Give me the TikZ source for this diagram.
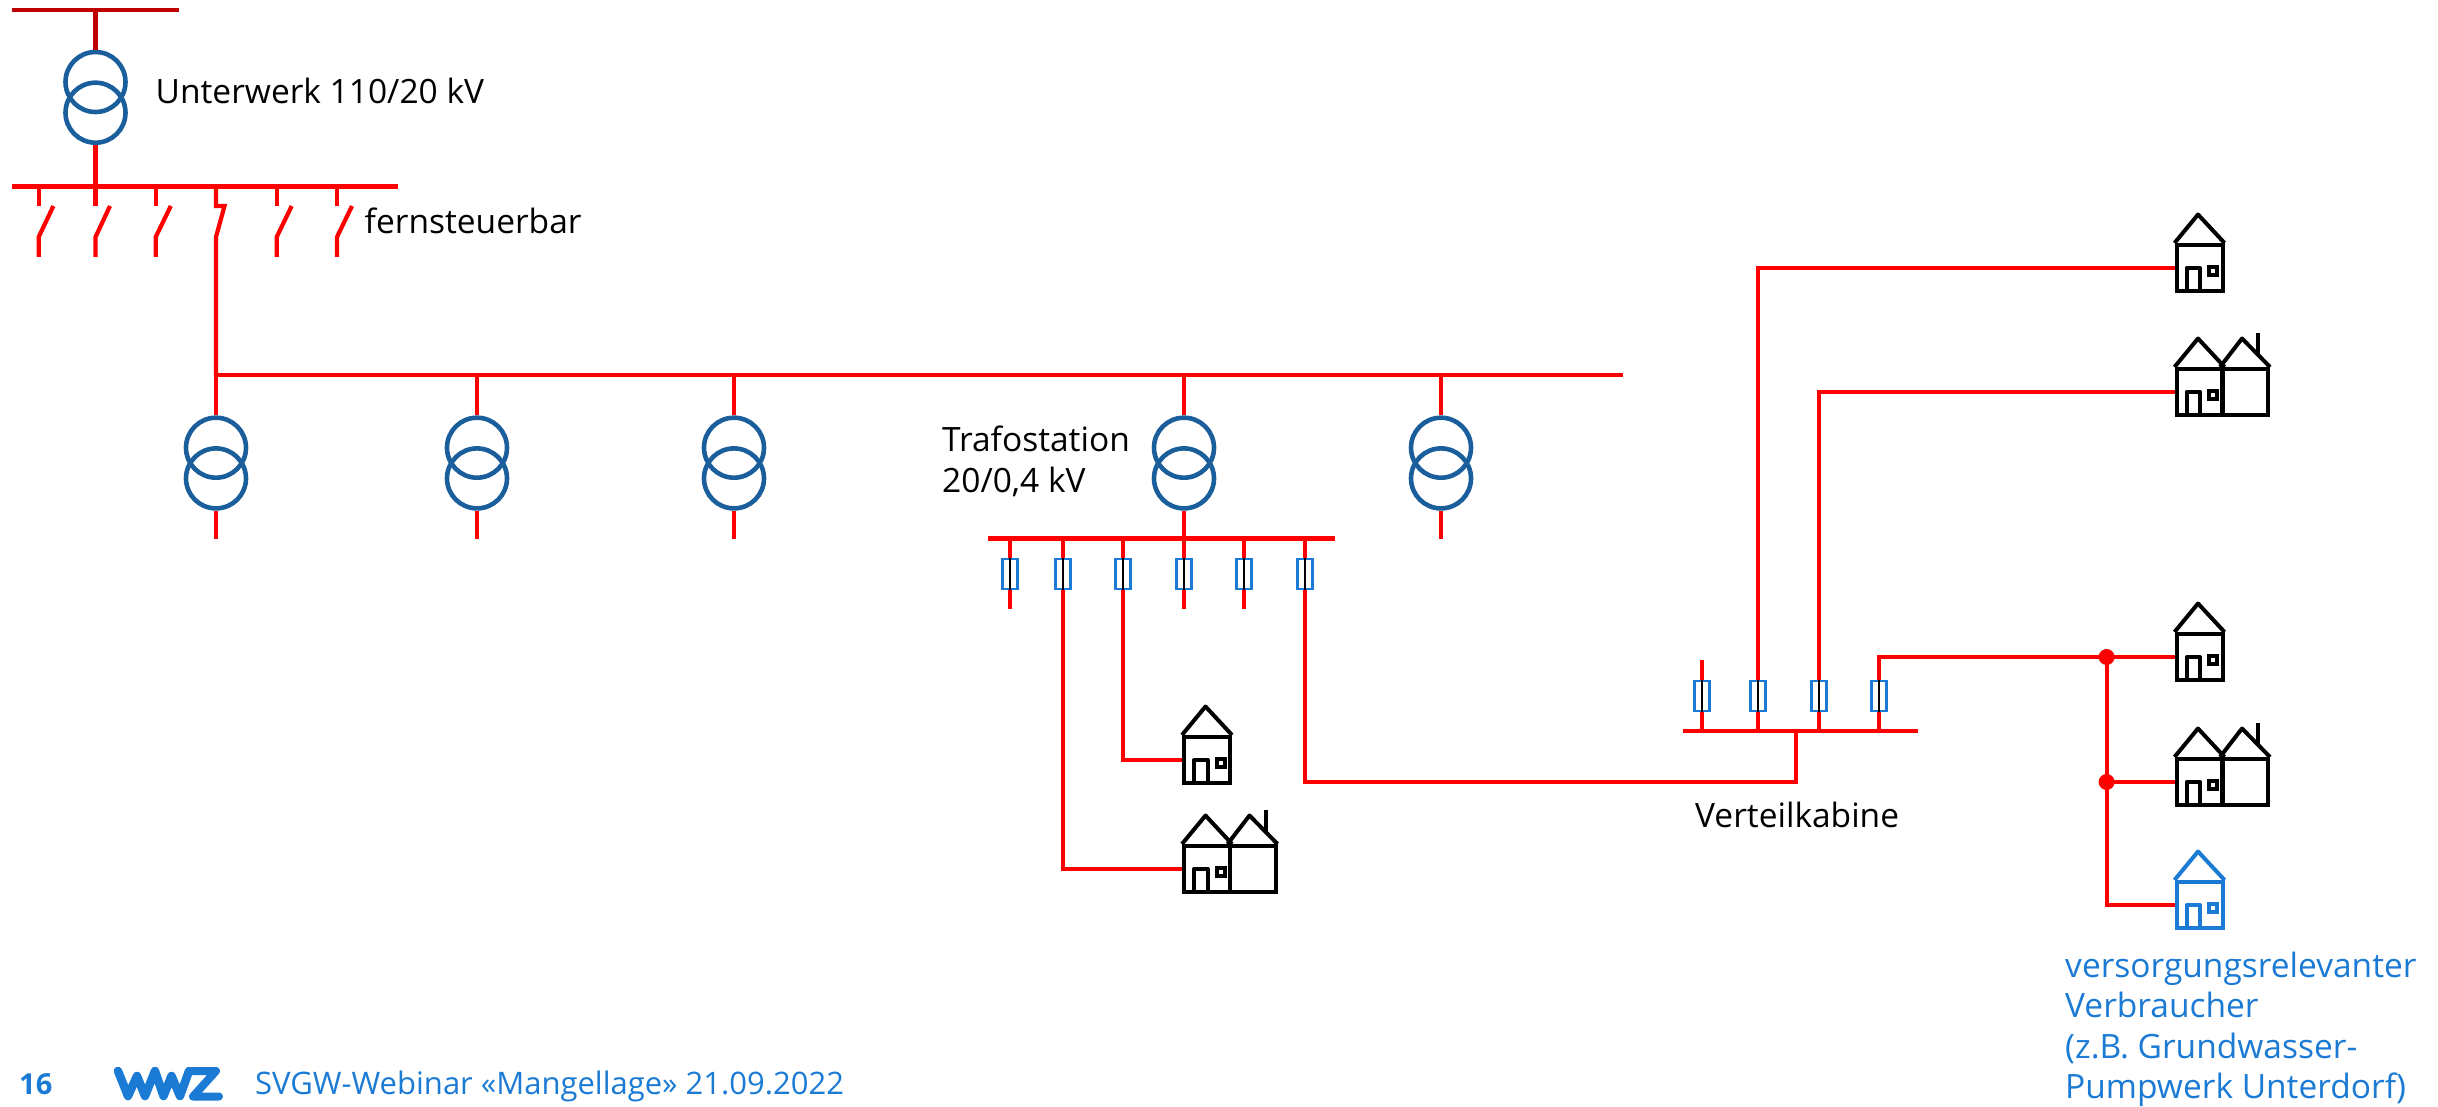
\documentclass[tikz,border=0pt]{standalone}
\usepackage{fontspec}
\setmainfont{Open Sans}
\definecolor{wirered}{HTML}{FF0000}
\definecolor{darkwire}{HTML}{C00000}
\definecolor{trafoblue}{HTML}{1B5E9C}
\definecolor{wwzblue}{HTML}{1A7AD4}
\tikzset{
  wire/.style={draw=wirered,line width=4.2pt},
  hvwire/.style={draw=darkwire,line width=4.2pt},
  busbar/.style={draw=wirered,line width=4.6pt},
  coil/.style={circle,draw=trafoblue,line width=4.6pt,minimum size=60pt,inner sep=0pt,fill=none},
  fusebox/.style={rectangle,draw=wwzblue,line width=2.8pt,minimum width=15pt,minimum height=30pt,inner sep=0pt},
  fusecore/.style={draw=black,line width=1.2pt},
  wall/.style={rectangle,line width=4pt,minimum width=46pt,minimum height=46pt,inner sep=0pt},
  hline/.style={line width=4pt,line join=round},
  label/.style={anchor=base west,inner sep=0pt,font=\fontsize{33.5}{40}\selectfont,text=black},
  bluelabel/.style={label,text=wwzblue},
  joint/.style={circle,fill=wirered,minimum size=16pt,inner sep=0pt},
}
% #1 name, #2 x, #3 y of upper coil centre
\newcommand{\trafo}[3]{%
  \node[coil] (#1u) at (#2,#3) {};
  \node[coil] (#1l) at (#2,#3+30.7) {};
}
% #1 name, #2 x, #3 centre y
\newcommand{\fuse}[3]{%
  \node[fusebox] (#1) at (#2,#3) {};
  \draw[fusecore] (#1.north) -- (#1.south);
}
% #1 name, #2 left x, #3 body top y, #4 colour
\newcommand{\house}[4]{%
  \node[wall,draw=#4] (#1) at (#2+23.5,#3+23) {};
  \draw[hline,draw=#4] (#1.north west) -- ++(23.5,-28.5) -- (#1.north east);
  \draw[hline,draw=#4] (#2+10.5,#3+46) -- (#2+10.5,#3+23) -- (#2+24,#3+23) -- (#2+24,#3+46);
  \draw[draw=#4,line width=4pt] (#2+33,#3+22) rectangle (#2+41,#3+30);
}
% #1 name, #2 left x, #3 body top y
\newcommand{\dhouse}[3]{%
  \house{#1}{#2}{#3}{black}
  \node[wall,draw=black] (#1r) at (#2+69,#3+23) {};
  \draw[hline,draw=black] (#1r.north west) -- ++(22,-28.5) -- (#1r.north east);
  \draw[hline,draw=black] (#2+82,#3-13) -- (#2+82,#3-36);
}
\begin{document}
\begin{tikzpicture}[x=1pt,y=-1pt]
\useasboundingbox (0,0) rectangle (2438,1107);
% ---- substation
\coordinate (hvl) at (12,10); \coordinate (hvr) at (179,10);
\draw[hvwire,line width=4.6pt] (hvl) -- (hvr);
\trafo{uw}{95.5}{82}
\draw[hvwire] (95.5,10) -- (uwu.north);
\coordinate (mvl) at (12,186.5); \coordinate (mvr) at (398,186.5);
\draw[busbar] (mvl) -- (mvr);
\draw[wire] (uwl.south) -- (uwl.south |- mvl);
\foreach \x/\tx in {38.7/53.4,95.5/110,155.7/170.8,276.7/291.7,337/352}{
  \draw[wire] (\x,186.5) -- (\x,206);
  \draw[wire] (\tx,206) -- (\x,237) -- (\x,257);
}
\node[label] (lu) at (155.5,104) {Unterwerk 110/20 kV};
\node[label] (lf) at (364.5,234) {fernsteuerbar};
% ---- MV feeder
\coordinate (fl) at (216,375); \coordinate (fr) at (1623,375);
\draw[wire] (fl) -- (fr);
\draw[wire] (216,186.5) -- (216,206) -- (224.5,206) -- (216,237) -- (fl);
\foreach \n/\x in {a/216,b/477,c/734,d/1184,e/1441}{
  \trafo{t\n}{\x}{447.7}
  \draw[wire] (\x,375) -- (t\n u.north);
  \draw[wire] (t\n l.south) -- (\x,538.7);
}
\node[label] (lt) at (942,451) {Trafostation};
\node[label] (lt2) at (942,492) {20/0,4 kV};
% ---- LV board
\coordinate (lvl) at (988,538.7); \coordinate (lvr) at (1335,538.7);
\draw[busbar] (lvl) -- (lvr);
\foreach \n/\x in {a/1010,b/1063,c/1123,d/1184,e/1244,f/1305}{
  \fuse{f\n}{\x}{574}
  \draw[wire] (f\n.north) -- (f\n.north |- lvl);
}
\foreach \n in {a,d,e}{\draw[wire] (f\n.south) -- ++(0,19);}
\house{h1}{1183.5}{737}{black}
\dhouse{h2}{1183.5}{846}
\draw[wire] (fc.south) |- (h1.west);
\draw[wire] (fb.south) |- (h2.west);
% ---- distribution cabinet
\coordinate (dcl) at (1683,731); \coordinate (dcr) at (1918,731);
\draw[busbar] (dcl) -- (dcr);
\coordinate (dcf) at (1796,731);
\draw[wire] (ff.south) |- (1796,782) -- (dcf);
\foreach \n/\x in {a/1702,b/1758,c/1819,d/1879}{
  \fuse{k\n}{\x}{696}
  \draw[wire] (k\n.south) -- (k\n.south |- dcl);
}
\draw[wire,line width=3.4pt] (ka.north) -- ++(0,-20);
\house{h3}{2176}{245}{black}
\dhouse{h4}{2176}{369}
\house{h5}{2176}{634}{black}
\dhouse{h6}{2176}{759}
\house{h7}{2176}{882}{wwzblue}
\draw[wire] (kb.north) |- (h3.west);
\draw[wire] (kc.north) |- (h4.west);
\draw[wire] (kd.north) |- (h5.west);
\coordinate (j1) at (2106.6,657);
\coordinate (j2) at (2106.6,782);
\draw[wire] (j1) |- (h7.west);
\draw[wire] (j2) -- (h6.west |- j2);
\node[joint] (d1) at (j1) {};
\node[joint] (d2) at (j2) {};
\node[label] (lv) at (1695,827) {Verteilkabine};
\node[bluelabel] (b1) at (2065,977) {versorgungsrelevanter};
\node[bluelabel] (b2) at (2065,1017) {Verbraucher};
\node[bluelabel] (b3) at (2065,1058) {(z.B. Grundwasser-};
\node[bluelabel] (b4) at (2065,1098) {Pumpwerk Unterdorf)};
% ---- footer
\node[bluelabel,font=\fontsize{29}{34}\selectfont\bfseries] (pg) at (19,1094) {16};
\draw[draw=wwzblue,line width=8.5pt,line cap=round,line join=round]
  (118,1071) -- (128,1096) -- (137,1076) -- (145,1096) -- (155,1071) -- (163.5,1096) -- (171.5,1076) -- (180,1096) -- (189,1071);
\draw[draw=wwzblue,line width=8pt,line cap=round,line join=round]
  (192,1071) -- (216,1071) -- (193,1096.5) -- (219,1096.5);
\node[bluelabel,font=\fontsize{31}{38}\selectfont] (ft) at (255,1094) {SVGW-Webinar «Mangellage» 21.09.2022};
\end{tikzpicture}
\end{document}
